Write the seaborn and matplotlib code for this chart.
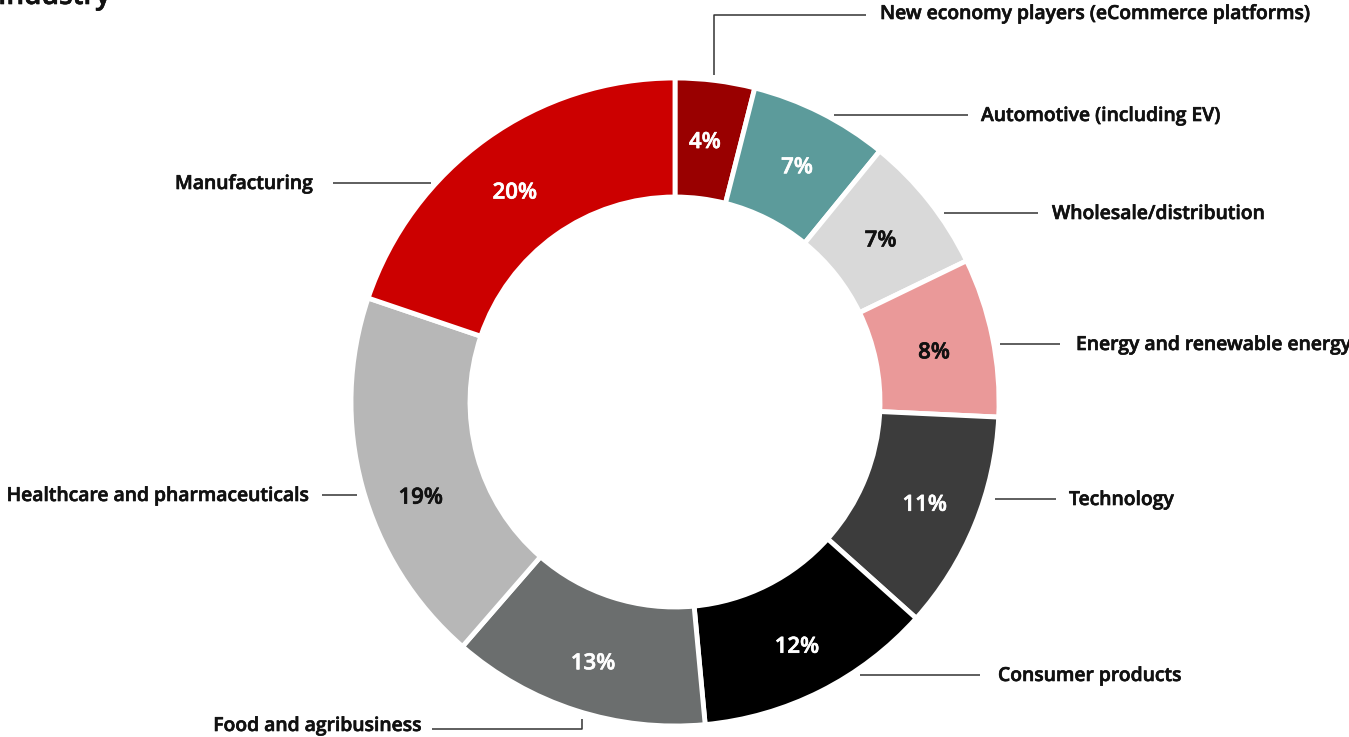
import matplotlib
matplotlib.use("Agg")
import matplotlib.pyplot as plt
import matplotlib.patheffects as pe
import seaborn as sns
import numpy as np

# Share of respondents by industry
categories = [
    "New economy players (eCommerce platforms)",
    "Automotive (including EV)",
    "Wholesale/distribution",
    "Energy and renewable energy",
    "Technology",
    "Consumer products",
    "Food and agribusiness",
    "Healthcare and pharmaceuticals",
    "Manufacturing",
]
shares = [4, 7, 7, 8, 11, 12, 13, 19, 20]
pct_labels = ["4%", "7%", "7%", "8%", "11%", "12%", "13%", "19%", "20%"]

colors = ["#990000", "#5c9b9b", "#d9d9d9", "#ea9999", "#3c3c3c",
          "#000000", "#6b6e6e", "#b7b7b7", "#cc0000"]
pct_colors = ["white", "white", "#111111", "#111111", "white",
              "white", "white", "#111111", "white"]

sns.set_theme(style="white")
plt.rcParams["font.family"] = ["Open Sans", "DejaVu Sans"]

W, H = 1349, 737
fig = plt.figure(figsize=(W / 100, H / 100), dpi=100)
ax = fig.add_axes([0, 0, 1, 1])
ax.set_xlim(0, W)
ax.set_ylim(0, H)
ax.set_aspect("equal")
ax.axis("off")

cx, cy = 675, H - 402
R_out, R_in = 324, 205

wedges, _ = ax.pie(
    shares, colors=colors, startangle=90, counterclock=False,
    radius=R_out, center=(cx, cy),
    wedgeprops=dict(width=R_out - R_in, edgecolor="white", linewidth=3.5),
)
ax.set_xlim(0, W)
ax.set_ylim(0, H)


def heavier(color):
    # thin outline in the text colour to thicken the glyph strokes a bit
    return [pe.Stroke(linewidth=0.45, foreground=color), pe.Normal()]


# percentage labels near the middle of each ring segment, with small nudges
r_mid = (R_out + R_in) / 2
pct_nudge = [(-3, -3), (3, -2), (-2, -3), (0, -4), (5, -3),
             (3, -9), (-1, -10), (1, -27), (-6, -6)]
for w, txt, col, (dx, dy) in zip(wedges, pct_labels, pct_colors, pct_nudge):
    ang = np.deg2rad((w.theta1 + w.theta2) / 2)
    ax.text(cx + r_mid * np.cos(ang) + dx, cy + r_mid * np.sin(ang) + dy, txt,
            ha="center", va="center", fontsize=16, fontweight="semibold",
            color=col, path_effects=heavier(col))

# category labels with leader lines (pixel layout, y measured from top)
layout = [
    # text x, text y, ha, leader polyline
    (880, 14, "left", [(714, 75), (714, 15), (866, 15)]),
    (981, 116, "left", [(834, 115), (968, 115)]),
    (1052, 214, "left", [(944, 213), (1038, 213)]),
    (1076, 345, "left", [(1000, 344), (1060, 344)]),
    (1069, 500, "left", [(995, 499), (1056, 499)]),
    (998, 676, "left", [(860, 675), (980, 675)]),
    (422, 726, "right", [(432, 729), (582, 729), (582, 719)]),
    (309, 496, "right", [(322, 495), (357, 495)]),
    (313, 184, "right", [(333, 183), (431, 183)]),
]
for name, (tx, ty, ha, pts) in zip(categories, layout):
    xs = [p[0] for p in pts]
    ys = [H - p[1] for p in pts]
    ax.plot(xs, ys, color="#333333", linewidth=1.1, solid_capstyle="butt")
    ax.text(tx, H - ty, name, ha=ha, va="center", fontsize=13.9,
            fontweight="semibold", color="#111111",
            path_effects=heavier("#111111"))

ax.text(-2, H - 4, "Industry", ha="left", va="baseline", fontsize=20,
        fontweight="semibold", color="#111111",
        path_effects=heavier("#111111"))

fig.savefig("out.png", dpi=100, facecolor="white")
